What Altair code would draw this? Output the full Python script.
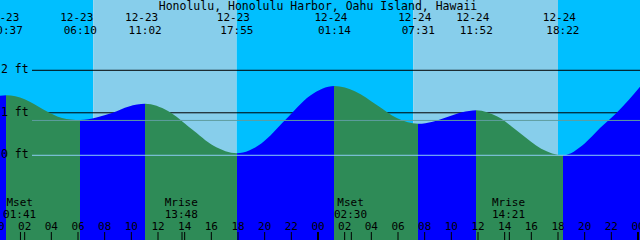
import altair as alt
import pandas as pd

# ---------------- data ----------------
title_text = "Honolulu, Honolulu Harbor, Oahu Island, Hawaii"

# visible time window, hours since 12-23 00:00
T0, T1 = 0.15, 48.15
# visible height window (ft)
Y_LO, Y_HI = -1.993, 3.654

# high / low tide events
event_dates = ["12-23", "12-23", "12-23", "12-23", "12-24", "12-24", "12-24", "12-24"]
event_times = ["00:37", "06:10", "11:02", "17:55", "01:14", "07:31", "11:52", "18:22"]

# tide curve (hours since 12-23 00:00, feet)
tide_t = [0.15, 0.617, 2.0, 3.4, 4.8, 6.167, 7.38, 8.6, 9.82, 11.033, 12.75, 14.47,
          16.2, 17.917, 19.75, 21.58, 23.4, 25.233, 26.8, 28.38, 29.95, 31.517, 32.6,
          33.7, 34.8, 35.867, 37.49, 39.12, 40.74, 42.367, 44.0, 45.15, 46.4, 47.3, 48.15]
tide_h = [1.40, 1.41, 1.32, 1.08, 0.88, 0.83, 0.89, 1.00, 1.15, 1.21, 1.04, 0.63,
          0.22, 0.05, 0.28, 0.84, 1.40, 1.63, 1.50, 1.19, 0.87, 0.74, 0.79,
          0.90, 1.01, 1.06, 0.905, 0.53, 0.155, 0.0, 0.28, 0.64, 1.0, 1.3, 1.61]

# sun
sunrise_t = [7.15, 31.15]
sunset_t = [17.9, 42.0]

# moon events
moon_names = ["Mset", "Mrise", "Mset", "Mrise"]
moon_dates = ["12-23", "12-23", "12-24", "12-24"]
moon_times = ["01:41", "13:48", "02:30", "14:21"]

# hour ticks
hour_ticks = list(range(0, 49, 2))

# depth lines
depth_ft = [2, 1, 0]
depth_labels = ["2 ft", "1 ft", "0 ft"]
msl_ft = 0.82

NIGHT = "#00BFFF"
DAY = "#87CEEB"
FLOOD = "#0000FF"
EBB = "#2E8B57"
MSL_COL = "#5F9EA0"
DATUM_COL = "#8CCBF2"
FONT = "DejaVu Sans Mono"
FS = 11
FS_TITLE = 11.5


def hours(date, time):
    d = 0 if date == "12-23" else 24
    hh, mm = time.split(":")
    return d + int(hh) + int(mm) / 60.0


ev_t = [hours(d, t) for d, t in zip(event_dates, event_times)]
moon_t = [hours(d, t) for d, t in zip(moon_dates, moon_times)]

# ---------------- scales ----------------
xs = alt.Scale(domain=[T0, T1], nice=False, zero=False)
ys = alt.Scale(domain=[Y_LO, Y_HI], nice=False, zero=False)
X = alt.X("t:Q", scale=xs, axis=None)
Y = alt.Y("h:Q", scale=ys, axis=None)

# ---------------- sky ----------------
sky_rows = []
edges = [T0]
for r, s in zip(sunrise_t, sunset_t):
    edges += [r, s]
edges.append(T1)
for i in range(len(edges) - 1):
    sky_rows.append({"t": edges[i], "t2": edges[i + 1], "c": NIGHT if i % 2 == 0 else DAY})
sky = alt.Chart(pd.DataFrame(sky_rows)).mark_rect().encode(
    x=X, x2="t2:Q", y=alt.value(0), y2=alt.value(240),
    color=alt.Color("c:N", scale=None))

# ---------------- black depth lines (under water) ----------------
dl = pd.DataFrame({"h": [d for d in depth_ft if d != 0]})
dlines = alt.Chart(dl).mark_rule(color="black", strokeWidth=1).encode(
    y=Y, x=alt.value(32), x2=alt.value(640))

# ---------------- water ----------------
# flood (rising) / ebb (falling) fill split at each high / low
stops = []
is_high = [True, False, True, False, True, False, True, False]
cur = FLOOD
stops.append(alt.GradientStop(offset=0, color=cur))
for t, hi in zip(ev_t, is_high):
    o = (t - T0) / (T1 - T0)
    nxt = EBB if hi else FLOOD
    stops.append(alt.GradientStop(offset=o, color=cur))
    stops.append(alt.GradientStop(offset=o, color=nxt))
    cur = nxt
stops.append(alt.GradientStop(offset=1, color=cur))
grad = alt.Gradient(gradient="linear", stops=stops, x1=0, x2=1, y1=0, y2=0)

water = alt.Chart(pd.DataFrame({"t": tide_t, "h": tide_h})).mark_area(
    interpolate="monotone", color=grad).encode(
    x=X, y=alt.Y("h:Q", scale=ys, axis=None, stack=None), y2=alt.value(240))

# ---------------- MSL & datum ----------------
msl = alt.Chart(pd.DataFrame({"h": [msl_ft]})).mark_rule(color=MSL_COL, strokeWidth=1).encode(
    y=Y, x=alt.value(32), x2=alt.value(640))
datum = alt.Chart(pd.DataFrame({"h": [0]})).mark_rule(color=DATUM_COL, strokeWidth=1).encode(
    y=Y, x=alt.value(32), x2=alt.value(640))

dlab = alt.Chart(pd.DataFrame({"h": depth_ft, "lab": depth_labels})).mark_text(
    font=FONT, fontSize=FS_TITLE, align="left", baseline="middle", color="black").encode(
    y=Y, x=alt.value(1), text="lab:N")

# ---------------- top labels ----------------
title = alt.Chart(pd.DataFrame({"lab": [title_text]})).mark_text(
    font=FONT, fontSize=FS_TITLE, align="center", baseline="alphabetic", color="black").encode(
    x=alt.value(318), y=alt.value(9.5), text="lab:N")
ev_df = pd.DataFrame({"t": ev_t, "d": event_dates, "tm": event_times})
ev_date = alt.Chart(ev_df).mark_text(
    font=FONT, fontSize=FS, align="center", baseline="alphabetic", color="black", dx=-3.5).encode(
    x=X, y=alt.value(21), text="d:N")
ev_time = alt.Chart(ev_df).mark_text(
    font=FONT, fontSize=FS, align="center", baseline="alphabetic", color="black").encode(
    x=X, y=alt.value(34), text="tm:N")

# ---------------- bottom labels ----------------
mo_df = pd.DataFrame({"t": moon_t, "n": moon_names, "tm": moon_times})
mo_name = alt.Chart(mo_df).mark_text(
    font=FONT, fontSize=FS, align="center", baseline="alphabetic", color="black", dx=-0.8).encode(
    x=X, y=alt.value(206), text="n:N")
mo_time = alt.Chart(mo_df).mark_text(
    font=FONT, fontSize=FS, align="center", baseline="alphabetic", color="black", dx=-0.8).encode(
    x=X, y=alt.value(218.3), text="tm:N")
mo_tick = alt.Chart(mo_df).mark_rule(color="black", strokeWidth=1).encode(
    x=X, y=alt.value(232), y2=alt.value(240))

hr_df = pd.DataFrame({"t": hour_ticks, "lab": [f"{h % 24:02d}" for h in hour_ticks]})
hr_lab = alt.Chart(hr_df).mark_text(
    font=FONT, fontSize=FS, align="center", baseline="alphabetic", color="black").encode(
    x=X, y=alt.value(230), text="lab:N")
hr_tick = alt.Chart(hr_df[hr_df.t % 24 != 0]).mark_rule(color="black", strokeWidth=1).encode(
    x=X, y=alt.value(232), y2=alt.value(240))
mid_tick = alt.Chart(hr_df[hr_df.t % 24 == 0]).mark_rule(color="black", strokeWidth=2).encode(
    x=X, y=alt.value(232), y2=alt.value(240))

chart = alt.layer(
    sky, dlines, water, msl, datum, dlab, title, ev_date, ev_time,
    mo_name, mo_time, mo_tick, hr_lab, hr_tick, mid_tick
).properties(
    width=640, height=240, padding=0, autosize=alt.AutoSizeParams(type="none")
).configure_view(stroke=None)

chart.save("out.html", embed_options={"renderer": "svg", "actions": False})
